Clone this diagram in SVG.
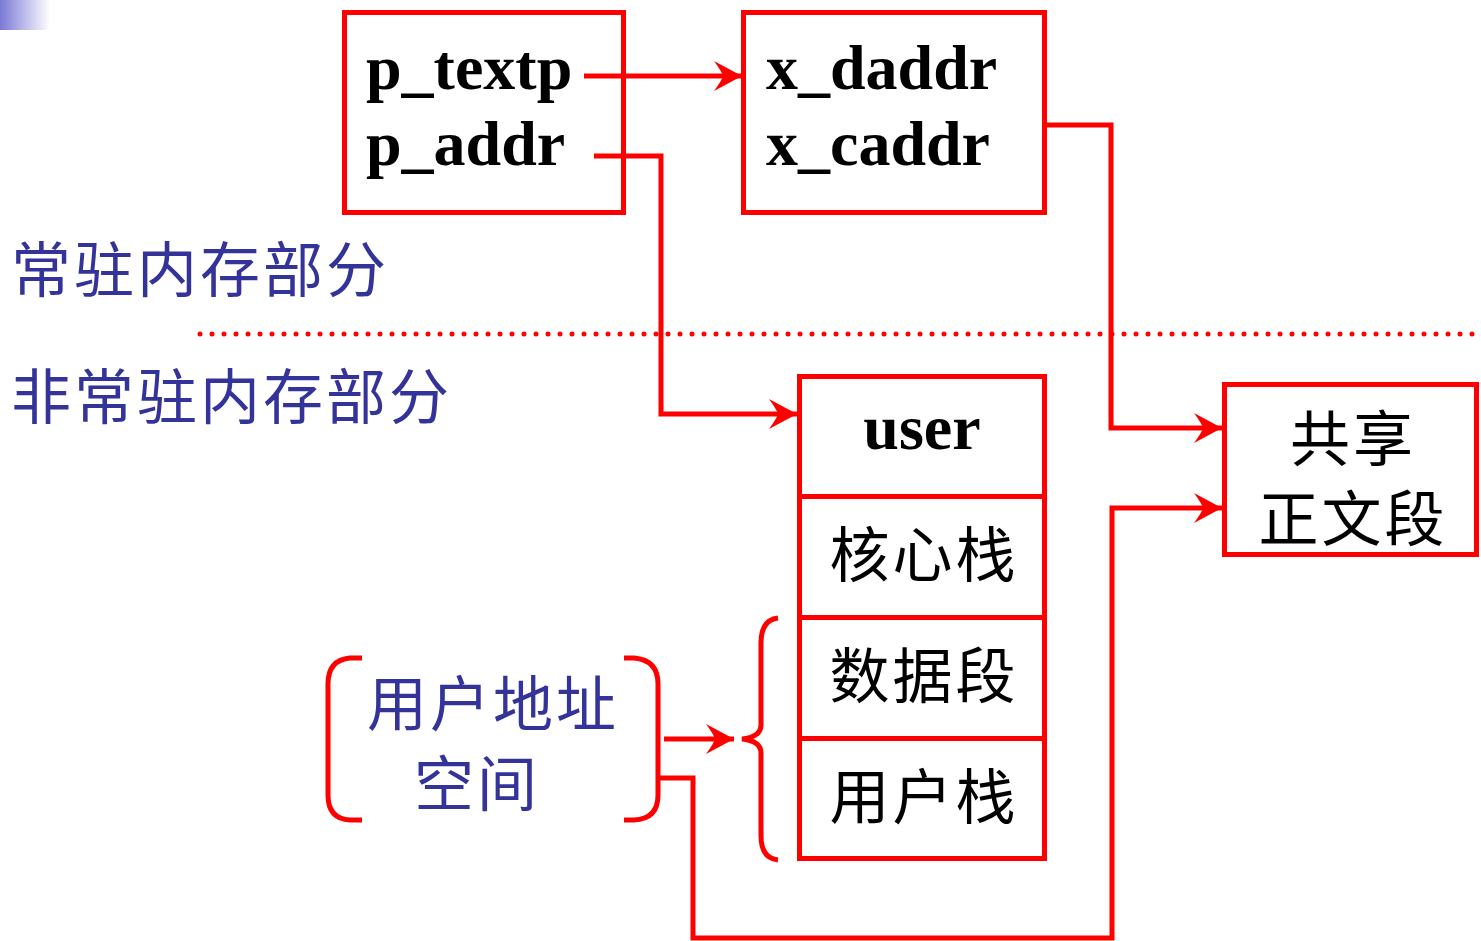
<svg xmlns="http://www.w3.org/2000/svg" width="1481" height="941" viewBox="0 0 1481 941">
  <style>
    .box { fill: #ffffff; stroke: #ff0000; stroke-width: 5; }
    .wire { fill: none; stroke: #ff0000; stroke-width: 5; stroke-linejoin: miter; }
    .code { font-family: "Liberation Serif", "Times New Roman", serif; font-weight: bold; font-size: 64px; fill: #000000; }
    .cjk { font-family: "Noto Sans CJK SC", "Noto Sans", sans-serif; font-size: 60px; letter-spacing: 3px; }
    .blue { fill: #333399; }
    .black { fill: #000000; }
  </style>
  <defs>
    <linearGradient id="cornerFade" x1="0" y1="0" x2="1" y2="0">
      <stop offset="0" stop-color="#7a7ad6"/>
      <stop offset="1" stop-color="#ffffff"/>
    </linearGradient>
    <marker id="arrow" markerUnits="userSpaceOnUse" viewBox="-30 -16 31 32" markerWidth="31" markerHeight="32" refX="0" refY="0" orient="auto">
      <path d="M0,0 L-28,-15 Q-20,-4 -19,0 Q-20,4 -28,15 Z" fill="#ff0000"/>
    </marker>
  </defs>

  <!-- corner shading -->
  <rect x="0" y="0" width="50" height="30" fill="url(#cornerFade)"/>

  <!-- section labels and divider -->
  <text class="cjk blue" x="11" y="292">常驻内存部分</text>
  <text class="cjk blue" x="11" y="419">非常驻内存部分</text>
  <line x1="200" y1="334" x2="1481" y2="334" stroke="#ff0000" stroke-width="5" stroke-linecap="round" stroke-dasharray="0 12"/>

  <!-- proc entry -->
  <g id="proc">
    <rect class="box" x="344.5" y="12.5" width="279" height="200"/>
    <text class="code" x="366" y="89">p_textp</text>
    <text class="code" x="366" y="165">p_addr</text>
  </g>

  <!-- text table entry -->
  <g id="text-entry">
    <rect class="box" x="743.5" y="12.5" width="301" height="200"/>
    <text class="code" x="766" y="89">x_daddr</text>
    <text class="code" x="766" y="165">x_caddr</text>
  </g>

  <!-- process image stack -->
  <g id="user">
    <rect class="box" x="799.5" y="376.5" width="245" height="120"/>
    <text class="code" x="922" y="449" text-anchor="middle">user</text>
  </g>
  <g id="kernel-stack">
    <rect class="box" x="799.5" y="496.5" width="245" height="121"/>
    <text class="cjk black" x="924" y="577" text-anchor="middle">核心栈</text>
  </g>
  <g id="data-seg">
    <rect class="box" x="799.5" y="617.5" width="245" height="121"/>
    <text class="cjk black" x="924" y="698" text-anchor="middle">数据段</text>
  </g>
  <g id="user-stack">
    <rect class="box" x="799.5" y="738.5" width="245" height="120"/>
    <text class="cjk black" x="924" y="819" text-anchor="middle">用户栈</text>
  </g>

  <!-- shared text segment -->
  <g id="shared-text">
    <rect class="box" x="1224.5" y="384.5" width="252" height="170"/>
    <text class="cjk black" x="1353" y="461" text-anchor="middle">共享</text>
    <text class="cjk black" x="1353" y="541" text-anchor="middle">正文段</text>
  </g>

  <!-- user address space -->
  <g id="user-space">
    <path class="wire" d="M362,658 L350,658 Q328,660 328,684 L328,795 Q328,819 350,820 L362,820"/>
    <path class="wire" d="M624,658 L634,658 Q658,660 658,684 L658,795 Q658,819 634,820 L624,820"/>
    <text class="cjk blue" x="493" y="726" text-anchor="middle">用户地址</text>
    <text class="cjk blue" x="477" y="806" text-anchor="middle">空间</text>
  </g>

  <!-- brace over data segment and user stack -->
  <g id="brace">
    <path class="wire" d="M778,618 Q761,620 761,643 L761,725 Q761,737 742,739 Q761,741 761,753 L761,836 Q761,858 778,860"/>
  </g>

  <g id="connectors">
    <path class="wire" d="M584,76 L742,76" marker-end="url(#arrow)"/>
    <path class="wire" d="M594,156 L661,156 L661,414 L797,414" marker-end="url(#arrow)"/>
    <path class="wire" d="M1047,125 L1111,125 L1111,428 L1222,428" marker-end="url(#arrow)"/>
    <path class="wire" d="M660,778 L693,778 L693,938 L1112,938 L1112,508 L1222,508" marker-end="url(#arrow)"/>
    <path class="wire" d="M664,739 L734,739" marker-end="url(#arrow)"/>
  </g>
</svg>
